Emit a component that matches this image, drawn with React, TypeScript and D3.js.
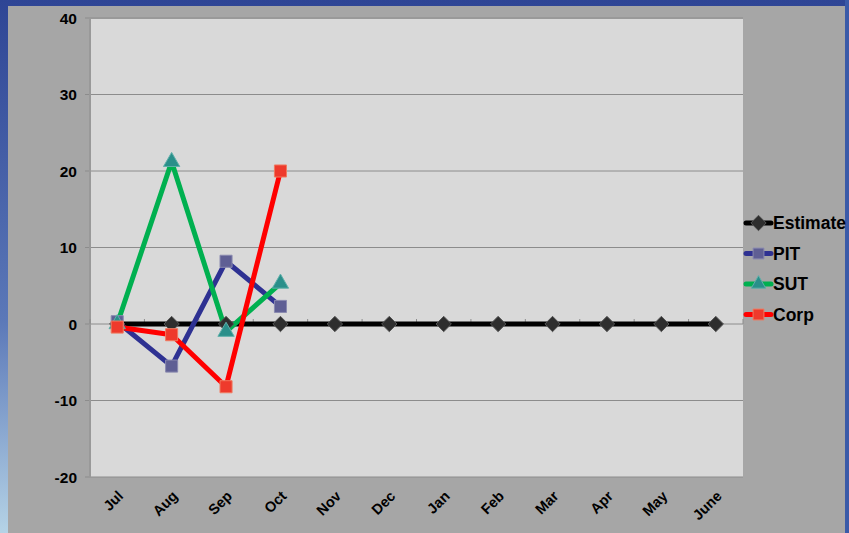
import { useEffect, useRef } from 'react';
import * as d3 from 'd3';

const months = ['Jul', 'Aug', 'Sep', 'Oct', 'Nov', 'Dec', 'Jan', 'Feb', 'Mar', 'Apr', 'May', 'June'];
const estimate = [0, 0, 0, 0, 0, 0, 0, 0, 0, 0, 0, 0];
const pit = [0.3, -5.5, 8.2, 2.3];
const sut = [0, 21.2, -1, 5.3];
const corp = [-0.4, -1.4, -8.2, 20];
const yTicks = [-20, -10, 0, 10, 20, 30, 40];

const series = [
  { name: 'Estimate', values: estimate, line: '#000000', fill: '#2e2e2e', stroke: '#555', shape: 'diamond' },
  { name: 'PIT', values: pit, line: '#2e3192', fill: '#5f5f94', stroke: '#8a8ab0', shape: 'square' },
  { name: 'SUT', values: sut, line: '#00b050', fill: '#2a8f8a', stroke: '#5fb0aa', shape: 'triangle' },
  { name: 'Corp', values: corp, line: '#ff0000', fill: '#ee3a2c', stroke: '#f07a60', shape: 'square' },
];

const W = 849;
const H = 533;
const plot = { left: 90, right: 743, top: 18, bottom: 477 };

const symbolFor = (shape: string) =>
  shape === 'diamond' ? d3.symbolDiamond2 : shape === 'triangle' ? d3.symbolTriangle2 : d3.symbolSquare2;
const sizeFor = (shape: string) => (shape === 'triangle' ? 190 : shape === 'diamond' ? 150 : 185);

const App = () => {
  const ref = useRef<SVGSVGElement>(null);

  useEffect(() => {
    const svg = d3.select(ref.current);
    svg.selectAll('*').remove();

    const defs = svg.append('defs');
    const grad = defs.append('linearGradient').attr('id', 'frame').attr('x1', 0).attr('y1', 0).attr('x2', 0).attr('y2', 1);
    grad.append('stop').attr('offset', '0%').attr('stop-color', '#2e4595');
    grad.append('stop').attr('offset', '60%').attr('stop-color', '#5b78b8');
    grad.append('stop').attr('offset', '100%').attr('stop-color', '#b5d3e6');

    // frame and background
    svg.append('rect').attr('width', W).attr('height', H).attr('fill', 'url(#frame)');
    svg.append('rect').attr('x', W - 4).attr('width', 4).attr('height', H).attr('fill', '#3a5aa8');
    svg.append('rect').attr('x', 8).attr('y', 6).attr('width', W - 8 - 4).attr('height', H - 6).attr('fill', '#a6a6a6');

    const x = d3.scaleBand().domain(months).range([plot.left, plot.right]);
    const y = d3.scaleLinear().domain([-20, 40]).range([plot.bottom, plot.top]);
    const cx = (i: number) => (x(months[i]) as number) + x.bandwidth() / 2;

    svg.append('rect')
      .attr('x', plot.left).attr('y', plot.top)
      .attr('width', plot.right - plot.left).attr('height', plot.bottom - plot.top)
      .attr('fill', '#d9d9d9');

    // gridlines
    svg.append('g')
      .selectAll('line')
      .data(yTicks)
      .enter()
      .append('line')
      .attr('x1', plot.left - 5).attr('x2', plot.right)
      .attr('y1', d => y(d)).attr('y2', d => y(d))
      .attr('stroke', d => (d === 40 ? '#999' : '#8c8c8c'))
      .attr('stroke-width', d => (d === 40 ? 2 : 1));

    // y axis line
    svg.append('line')
      .attr('x1', plot.left).attr('x2', plot.left)
      .attr('y1', plot.top).attr('y2', plot.bottom)
      .attr('stroke', '#999').attr('stroke-width', 2);

    // category ticks on zero line
    svg.append('g')
      .selectAll('line')
      .data(d3.range(months.length + 1))
      .enter()
      .append('line')
      .attr('x1', i => plot.left + i * x.step()).attr('x2', i => plot.left + i * x.step())
      .attr('y1', y(0) - 5).attr('y2', y(0))
      .attr('stroke', '#8c8c8c');

    svg.append('g')
      .selectAll('text')
      .data(yTicks)
      .enter()
      .append('text')
      .attr('x', 77).attr('y', d => y(d) + 5.5)
      .attr('text-anchor', 'end')
      .style('font', 'bold 15.5px "Liberation Sans", Arial, sans-serif')
      .attr('fill', '#000')
      .text(d => d);

    svg.append('g')
      .selectAll('text')
      .data(months)
      .enter()
      .append('text')
      .attr('text-anchor', 'end')
      .attr('transform', (d, i) => `translate(${cx(i) + 7},${497}) rotate(-45)`)
      .style('font', 'bold 14.5px "Liberation Sans", Arial, sans-serif')
      .attr('fill', '#000')
      .text(d => d);

    const line = d3.line<number>().x((d, i) => cx(i)).y(d => y(d));

    series.forEach(s => {
      svg.append('path')
        .attr('d', line(s.values))
        .attr('fill', 'none')
        .attr('stroke', s.line)
        .attr('stroke-width', 5)
        .attr('stroke-linejoin', 'round');
    });

    series.forEach(s => {
      const sym = d3.symbol().type(symbolFor(s.shape)).size(sizeFor(s.shape));
      svg.append('g')
        .selectAll('path')
        .data(s.values)
        .enter()
        .append('path')
        .attr('d', sym)
        .attr('transform', (d, i) => `translate(${cx(i)},${y(d)})`)
        .attr('fill', s.fill)
        .attr('stroke', s.stroke)
        .attr('stroke-width', 1);
    });

    // legend
    const legend = svg.append('g');
    series.forEach((s, i) => {
      const ly = 223 + i * 30.5;
      legend.append('line')
        .attr('x1', 746).attr('x2', 771)
        .attr('y1', ly).attr('y2', ly)
        .attr('stroke', s.line).attr('stroke-width', 5)
        .attr('stroke-linecap', 'round');
      legend.append('path')
        .attr('d', d3.symbol().type(symbolFor(s.shape)).size(150)())
        .attr('transform', `translate(758.5,${ly})`)
        .attr('fill', s.fill).attr('stroke', s.stroke);
      legend.append('text')
        .attr('x', 773).attr('y', ly + 6)
        .style('font', 'bold 17.5px "Liberation Sans", Arial, sans-serif')
        .attr('fill', '#000')
        .text(s.name);
    });
  }, []);

  return (
    <svg ref={ref} width={W} height={H} style={{ position: 'absolute', left: 0, top: 0 }} />
  );
};

export default App;
